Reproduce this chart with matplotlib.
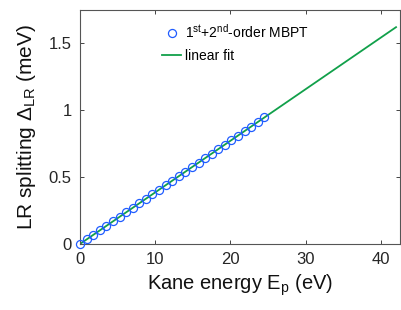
import matplotlib
matplotlib.use('Agg')
import matplotlib.pyplot as plt

# MBPT points (Kane energy in eV, LR splitting in meV)
ep_mbpt = [0.0, 0.875, 1.75, 2.625, 3.5, 4.375, 5.25, 6.125, 7.0, 7.875,
           8.75, 9.625, 10.5, 11.375, 12.25, 13.125, 14.0, 14.875, 15.75,
           16.625, 17.5, 18.375, 19.25, 20.125, 21.0, 21.875, 22.75,
           23.625, 24.5]
dlr_mbpt = [0.0, 0.034, 0.068, 0.101, 0.135, 0.169, 0.203, 0.236, 0.270,
            0.304, 0.338, 0.372, 0.405, 0.439, 0.473, 0.507, 0.540, 0.574,
            0.608, 0.642, 0.676, 0.709, 0.743, 0.777, 0.811, 0.844, 0.878,
            0.912, 0.946]

# linear fit
ep_fit = [0.0, 42.0]
dlr_fit = [0.0, 1.621]

plt.rcParams['font.family'] = ['Liberation Sans', 'DejaVu Sans']
plt.rcParams['mathtext.fontset'] = 'custom'
plt.rcParams['mathtext.rm'] = 'Liberation Sans'
plt.rcParams['mathtext.it'] = 'Liberation Sans:italic'

fig = plt.figure(figsize=(4.01, 3.10), dpi=100)
ax = fig.add_axes([0.1995, 0.213, 0.7975, 0.755])

ax.plot(ep_mbpt, dlr_mbpt, 'o', mfc='none', mec='#1f5cff', ms=5.8, mew=0.9,
        label=r'$1^{\rm st}$+$2^{\rm nd}$-order MBPT', zorder=3, clip_on=False)
ax.plot(ep_fit, dlr_fit, '-', color='#11a04a', lw=1.3, label='linear fit', zorder=2)

ax.set_xlim(0, 42.5)
ax.set_ylim(0, 1.75)
ax.set_xticks([0, 10, 20, 30, 40])
ax.set_yticks([0, 0.5, 1, 1.5])
ax.set_yticklabels(['0', '0.5', '1', '1.5'])

ax.tick_params(direction='in', top=True, right=True, length=3, width=0.6,
               labelsize=12, colors='#262626', pad=6)
for s in ax.spines.values():
    s.set_color('#555555')
    s.set_linewidth(0.8)

ax.set_xlabel(r'Kane energy E$_{\rm p}$ (eV)', fontsize=14.5, color='#111111', labelpad=4)
ax.set_ylabel(r'LR splitting $\Delta_{\rm LR}$ (meV)', fontsize=15, color='#111111', labelpad=8)

ax.legend(loc='upper left', bbox_to_anchor=(0.23, 0.98), frameon=False,
          fontsize=10, handlelength=1.4, handletextpad=0.3, borderaxespad=0.2,
          labelspacing=0.6)

fig.savefig('out.png', dpi=100)
